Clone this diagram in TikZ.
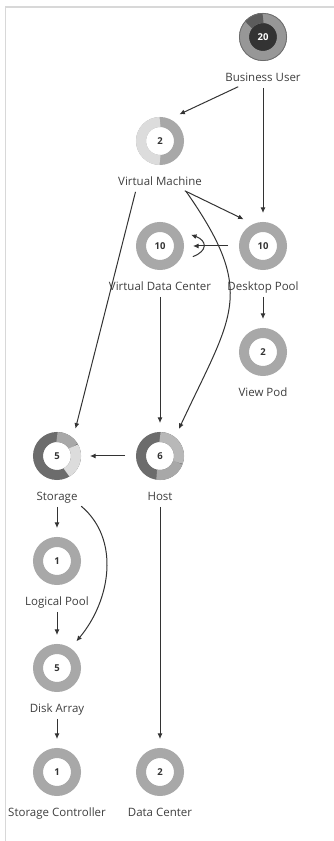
\documentclass[tikz,border=0pt]{standalone}
\usepackage{fontspec}
\setmainfont{Open Sans}
\usetikzlibrary{arrows.meta,positioning,calc}

\definecolor{ringgray}{HTML}{A8A8A8}
\definecolor{ringlight}{HTML}{DCDCDC}
\definecolor{ringmid}{HTML}{B8B8B8}
\definecolor{ringdark}{HTML}{6C6C6C}
\definecolor{txtgray}{HTML}{3E3E3E}
\definecolor{edgegray}{HTML}{333333}
\definecolor{framegray}{HTML}{D8D8D8}

% one coloured piece of a donut ring: node, start angle, end angle, colour
\newcommand{\ringpart}[4]{%
  \draw[#4, line width=10pt] ([shift={(#2:19pt)}]#1.center) arc[start angle=#2, end angle=#3, radius=19pt];}

\begin{document}
\begin{tikzpicture}[
  x=1pt, y=1pt,
  font=\fontsize{11.5}{13}\selectfont,
  ring/.style={circle, draw=ringgray, line width=10pt, minimum size=38pt, inner sep=0pt, outer sep=14pt,
    text=edgegray, font=\fontsize{9.5}{11}\selectfont\bfseries},
  lbl/.style={text=txtgray, inner sep=2pt, text height=9pt, text depth=2.5pt},
  arr/.style={-{Latex[length=5.5pt,width=5pt]}, line width=1pt, draw=edgegray, shorten <=2pt}
]
\useasboundingbox (0,0) rectangle (334,841);

% frame
\draw[framegray, line width=1.5pt] (5.5,0) -- (5.5,834) -- (334,834);

% top of the chain
\node[ring, fill=black!80, draw=ringgray!90!black, text=white] (bu) at (263,804) {20};
\ringpart{bu}{90}{140}{ringdark!85!black}
\draw[ringdark, line width=0.8pt] (bu.center) circle[radius=23.6pt];
\node[lbl, below=0pt of bu] (bu-l) {Business User};

\node[ring] (vm) at (160,700) {2};
\ringpart{vm}{90}{270}{ringlight}
\node[lbl, below=0pt of vm] (vm-l) {Virtual Machine};

\node[ring] (vdc) at (160,595) {10};
\node[lbl, below=0pt of vdc] (vdc-l) {Virtual Data Center};

\node[ring] (dp) at (263,595) {10};
\node[lbl, below=0pt of dp] (dp-l) {Desktop Pool};

\node[ring] (vp) at (263,489) {2};
\node[lbl, below=0pt of vp] (vp-l) {View Pod};

% middle row
\node[ring, draw=ringdark] (st) at (57,385) {5};
\ringpart{st}{90}{30}{ringgray}
\ringpart{st}{30}{-60}{ringlight}
\node[lbl, below=0pt of st] (st-l) {Storage};

\node[ring, draw=ringdark] (ho) at (160,385) {6};
\ringpart{ho}{90}{-20}{ringmid}
\ringpart{ho}{-20}{-100}{ringgray}
\node[lbl, below=0pt of ho] (ho-l) {Host};

% storage side
\node[ring] (lp) at (57,280) {1};
\node[lbl, below=0pt of lp] (lp-l) {Logical Pool};

\node[ring] (da) at (57,173) {5};
\node[lbl, below=0pt of da] (da-l) {Disk Array};

\node[ring] (sc) at (57,69) {1};
\node[lbl, below=0pt of sc] (sc-l) {Storage Controller};

\node[ring] (dc) at (160,69) {2};
\node[lbl, below=0pt of dc] (dc-l) {Data Center};

% connectors
\draw[arr] ([xshift=-23pt]bu-l.south) -- (vm.54);
\draw[arr] (bu-l.south) -- (dp.north);
\draw[arr] ([xshift=23pt]vm-l.south) -- (dp.126);
\draw[arr] ([xshift=-24pt]vm-l.south) -- (st.56);
\draw[arr] ([xshift=25pt]vm-l.south) to[out=-55, in=65, looseness=1.35] (ho.55);
\draw[arr] (dp.west) -- (vdc.east);
\draw[arr] (vdc.-20) to[out=20, in=-20, looseness=2] (vdc.20);
\draw[arr] (vdc-l.south) -- (ho.north);
\draw[arr] (dp-l.south) -- (vp.north);
\draw[arr] (ho.west) -- (st.east);
\draw[arr] (st-l.south) -- (lp.north);
\draw[arr] (st-l.south east) to[out=-40, in=50] (da.54);
\draw[arr] (lp-l.south) -- (da.north);
\draw[arr] (da-l.south) -- (sc.north);
\draw[arr] (ho-l.south) -- (dc.north);

\end{tikzpicture}
\end{document}
